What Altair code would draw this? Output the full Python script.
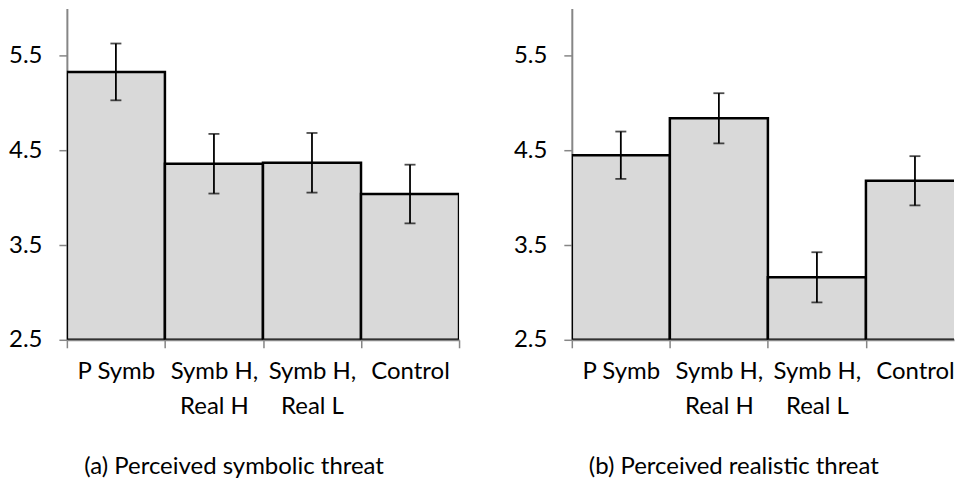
import altair as alt
import pandas as pd

categories = ["P Symb", "Symb H,\nReal H", "Symb H,\nReal L", "Control"]
symbolic_mean = [5.33, 4.36, 4.37, 4.04]
symbolic_err = [0.30, 0.315, 0.315, 0.31]
realistic_mean = [4.45, 4.84, 3.16, 4.18]
realistic_err = [0.25, 0.265, 0.265, 0.26]
y_ticks = [2.5, 3.5, 4.5, 5.5]
titles = ["(a) Perceived symbolic threat", "(b) Perceived realistic threat"]

FONT = "Lato"
AXIS_GRAY = "#868686"
BAND_PX = 98.25          # width of one category band in pixels
PLOT_H = 332
Y_MIN, Y_MAX = 2.5, 6.0

N = len(categories)
LABEL_ARR = "[" + ", ".join(
    "[" + ", ".join("'" + p + "'" for p in c.split("\n")) + "]" for c in categories
) + "]"


def panel(means, errs, title, view_width):
    df = pd.DataFrame({
        "cat": categories,
        "i0": list(range(N)),
        "i1": [i + 1 for i in range(N)],
        "ic": [i + 0.5 for i in range(N)],
        "mean": means,
        "base": [Y_MIN] * N,
        "lo": [m - e for m, e in zip(means, errs)],
        "hi": [m + e for m, e in zip(means, errs)],
    })
    x_max = view_width / BAND_PX
    x_scale = alt.Scale(domain=[0, x_max], nice=False, zero=False)
    y_scale = alt.Scale(domain=[Y_MIN, Y_MAX], nice=False, zero=False)
    x_axis = alt.Axis(
        title=None,
        values=[i for i in range(N + 1) if i <= x_max + 1e-9],
        labelExpr=f"datum.value < {N} ? {LABEL_ARR}[datum.value] : ''",
        labelOffset={"condition": {"test": f"datum.value >= {N}", "value": 0},
                     "value": BAND_PX / 2},
        labelFlush=False,
        labelOverlap=False,
        labelAngle=0,
        labelFont=FONT, labelFontSize=24, labelColor="black",
        labelLineHeight=35, labelPadding=12,
        tickSize=8, tickColor=AXIS_GRAY, tickWidth=1.5,
        domainColor=AXIS_GRAY, domainWidth=2, grid=False,
    )
    y_axis = alt.Axis(
        title=None, values=y_ticks, format=".1f",
        labelFont=FONT, labelFontSize=24, labelColor="black", labelPadding=17,
        tickSize=8, tickColor=AXIS_GRAY, tickWidth=1.5,
        domainColor=AXIS_GRAY, domainWidth=2, grid=False,
    )
    base = alt.Chart(df)
    bars = base.mark_bar(
        fill="#d9d9d9", stroke="black", strokeWidth=2.5, clip=True
    ).encode(
        x=alt.X("i0:Q", scale=x_scale, axis=x_axis),
        x2="i1:Q",
        y=alt.Y("mean:Q", scale=y_scale, axis=y_axis),
        y2="base:Q",
    )
    rules = base.mark_rule(color="black", strokeWidth=1.8).encode(
        x=alt.X("ic:Q"),
        y=alt.Y("lo:Q"),
        y2="hi:Q",
    )
    caps_hi = base.mark_tick(
        color="black", thickness=1.8, size=11, orient="horizontal"
    ).encode(x=alt.X("ic:Q"), y=alt.Y("hi:Q"))
    caps_lo = base.mark_tick(
        color="black", thickness=1.8, size=11, orient="horizontal"
    ).encode(x=alt.X("ic:Q"), y=alt.Y("lo:Q"))
    return alt.layer(bars, rules, caps_hi, caps_lo).properties(
        width=view_width,
        height=PLOT_H,
        title=alt.TitleParams(
            text=title, orient="bottom", anchor="middle", frame="bounds",
            font=FONT, fontSize=24, fontWeight="normal", color="black",
            offset=36,
        ),
    )


chart = alt.hconcat(
    panel(symbolic_mean, symbolic_err, titles[0], 393),
    panel(realistic_mean, realistic_err, titles[1], 383),
    spacing=53,
).properties(padding=0, background="white").configure_view(
    strokeWidth=0, stroke="transparent"
)

chart.save("out.html", embed_options={"renderer": "svg", "actions": False})
